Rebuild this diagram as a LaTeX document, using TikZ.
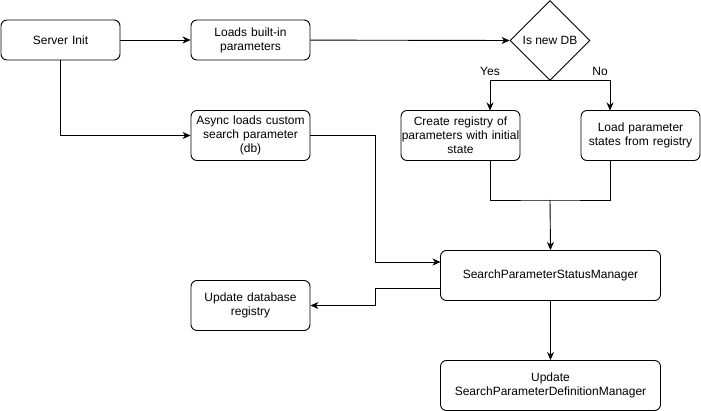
\documentclass[tikz,border=0pt]{standalone}
\usepackage{fontspec}
\setmainfont{Liberation Sans}
\usetikzlibrary{shapes.geometric,arrows.meta,calc}
\begin{document}
\begin{tikzpicture}[x=1pt,y=-1pt,
  every node/.style={font=\fontsize{12}{14}\selectfont},
  box/.style={draw, rounded corners=6pt, line width=0.9pt, align=center, inner sep=0pt, text width=#1},
  box/.default=116pt,
  conn/.style={line width=0.9pt},
  arr/.style={conn, -{Stealth[length=8pt,width=7pt,inset=2.5pt]}},
  lbl/.style={inner sep=0pt}
]
\useasboundingbox (0,0) rectangle (701,411);
\node[box, minimum width=119pt, minimum height=40pt] (init) at (60.5,40) {Server Init};
\node[box, minimum width=119pt, minimum height=40pt] (built) at (250.5,40) {Loads built-in\\parameters};
\node[box, minimum width=119pt, minimum height=50pt] (async) at (250.5,135.5) {Async loads custom\\search parameter\\(db)};
\node[draw, diamond, line width=0.9pt, minimum width=80pt, minimum height=80pt, inner sep=0pt] (dia) at (550,40.5) {Is new DB};
\node[box=118pt, minimum width=119pt, minimum height=50pt] (create) at (460.5,135.5) {Create registry of\\parameters with initial\\state};
\node[box, minimum width=119pt, minimum height=50pt] (load) at (640.5,135.5) {Load parameter\\states from registry};
\node[box=200pt, minimum width=220pt, minimum height=50pt] (spsm) at (550.5,275.5) {SearchParameterStatusManager};
\node[box, minimum width=119pt, minimum height=50pt] (upddb) at (250.5,305.5) {Update database\\registry};
\node[box=200pt, minimum width=220pt, minimum height=50pt] (spdm) at (550.5,385.5) {Update\\SearchParameterDefinitionManager};
\node[lbl] (yes) at (490,71) {Yes};
\node[lbl] (no) at (600,71) {No};
\coordinate (yesin) at (490,110.5);
\coordinate (noin) at (610,110.5);
\coordinate (yesout) at (490,160.5);
\coordinate (noout) at (610,160.5);
\coordinate (merge) at (550,200);
\coordinate (asyncin) at (440.5,262);
\coordinate (dbout) at (440.5,288);

\draw[arr] (init) -- (built);
\draw[arr] (init.south) |- (async.west);
\draw[arr] (built) -- (dia.west);
\draw[arr] (dia.south) -| (yesin);
\draw[arr] (dia.south) -| (noin);
\draw[conn] (yesout) |- (merge) -| (noout);
\draw[arr] (merge) -- (spsm.north);
\draw[arr] (async.east) -- (375,135.5) |- (asyncin);
\draw[arr] (dbout) -- (375,288) |- (upddb.east);
\draw[arr] (spsm) -- (spdm);
\end{tikzpicture}
\end{document}
